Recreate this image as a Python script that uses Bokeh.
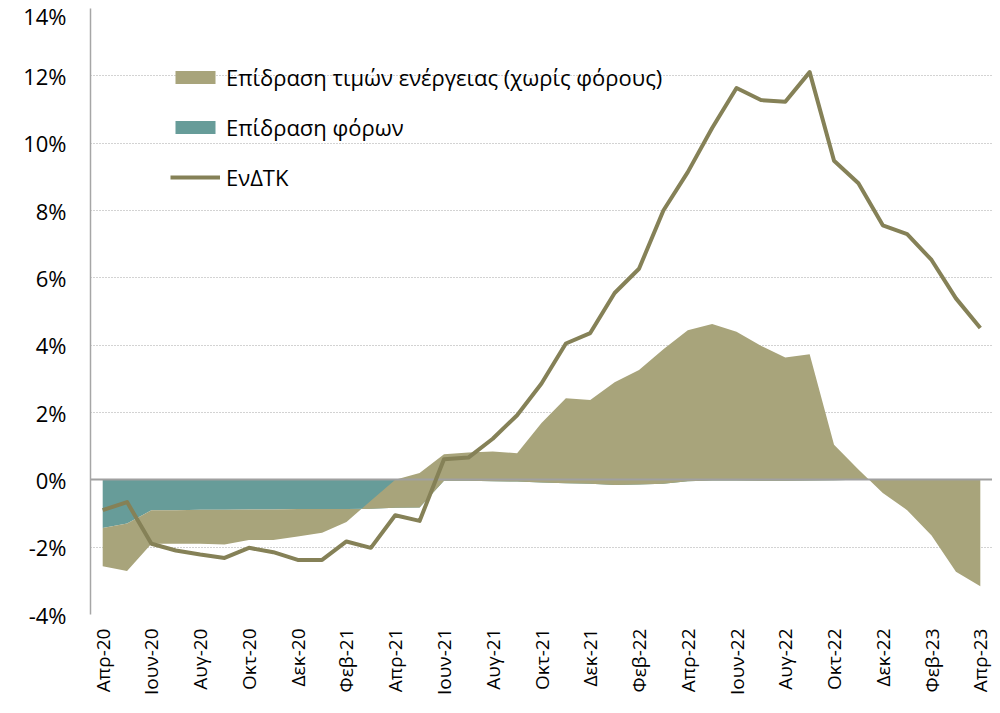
from bokeh.plotting import figure
from bokeh.models import (FixedTicker, PrintfTickFormatter, Legend, LegendItem,
                          Range1d, ColumnDataSource)
from bokeh.embed import file_html
from bokeh.resources import INLINE
import math

months = ["Απρ-20", "Μαϊ-20", "Ιουν-20", "Ιουλ-20", "Αυγ-20", "Σεπ-20", "Οκτ-20", "Νοε-20",
          "Δεκ-20", "Ιαν-21", "Φεβ-21", "Μαρ-21", "Απρ-21", "Μαϊ-21", "Ιουν-21", "Ιουλ-21",
          "Αυγ-21", "Σεπ-21", "Οκτ-21", "Νοε-21", "Δεκ-21", "Ιαν-22", "Φεβ-22", "Μαρ-22",
          "Απρ-22", "Μαϊ-22", "Ιουν-22", "Ιουλ-22", "Αυγ-22", "Σεπ-22", "Οκτ-22", "Νοε-22",
          "Δεκ-22", "Ιαν-23", "Φεβ-23", "Μαρ-23", "Απρ-23"]

# Effect of taxes (percentage points)
taxes = [-1.43, -1.30, -0.90, -0.90, -0.89, -0.89, -0.88, -0.88, -0.87, -0.87, -0.87, -0.86,
         -0.83, -0.82, -0.03, -0.03, -0.04, -0.05, -0.08, -0.10, -0.12, -0.15, -0.14, -0.12,
         -0.04, -0.02, -0.02, -0.03, -0.03, -0.02, -0.01, 0.0, 0.0, 0.0, 0.0, 0.0, 0.0]

# Effect of energy prices excluding taxes (percentage points)
energy = [-1.14, -1.41, -1.00, -1.00, -1.01, -1.03, -0.91, -0.91, -0.81, -0.70, -0.38, 0.24,
          0.83, 1.02, 0.79, 0.84, 0.88, 0.84, 1.77, 2.52, 2.49, 3.05, 3.40, 4.00,
          4.48, 4.65, 4.42, 4.01, 3.66, 3.75, 1.05, 0.31, -0.39, -0.90, -1.65, -2.73, -3.16]

# HICP annual change (%)
hicp = [-0.9, -0.66, -1.9, -2.1, -2.22, -2.32, -2.02, -2.15, -2.38, -2.38, -1.83, -2.02,
        -1.05, -1.22, 0.61, 0.66, 1.22, 1.92, 2.86, 4.05, 4.36, 5.55, 6.27, 8.0,
        9.14, 10.45, 11.64, 11.28, 11.23, 12.11, 9.48, 8.81, 7.56, 7.3, 6.53, 5.39, 4.51]

y_ticks = [-4, -2, 0, 2, 4, 6, 8, 10, 12, 14]

labels = {
    "energy": "Επίδραση τιμών ενέργειας (χωρίς φόρους)",
    "taxes": "Επίδραση φόρων",
    "hicp": "ΕνΔΤΚ",
}

KHAKI = "#A8A47B"
TEAL = "#679C99"
LINE = "#858157"
FONT = "Open Sans"

x = list(range(len(months)))
cum = [t + e for t, e in zip(taxes, energy)]
src = ColumnDataSource(dict(x=x, taxes=taxes, cum=cum, hicp=hicp,
                            zero=[0.0] * len(x)))

p = figure(width=992, height=697, output_backend="svg", toolbar_location=None,
           x_range=Range1d(-0.5, len(months) - 0.5), y_range=Range1d(-4, 14),
           min_border_left=90, min_border_right=0, min_border_top=8,
           min_border_bottom=70)
p.outline_line_color = None
p.background_fill_color = "white"
p.border_fill_color = "white"

r_tax = p.varea(x="x", y1="zero", y2="taxes", source=src, fill_color=TEAL)
r_en = p.varea(x="x", y1="taxes", y2="cum", source=src, fill_color=KHAKI)
p.hspan(y=[0], line_color="#A0A0A0", line_width=2)
r_line = p.line(x="x", y="hicp", source=src, line_color=LINE, line_width=4,
                line_join="round")

# axes
for ax in (p.xaxis, p.yaxis):
    ax.major_tick_out = 0
    ax.major_tick_in = 0
    ax.minor_tick_out = 0
    ax.minor_tick_in = 0
    ax.major_tick_line_color = None
    ax.minor_tick_line_color = None
    ax.major_label_text_font = FONT
    ax.major_label_text_color = "black"

p.yaxis.ticker = FixedTicker(ticks=y_ticks)
p.yaxis.formatter = PrintfTickFormatter(format="%d%%")
p.yaxis.axis_line_color = "#A6A6A6"
p.yaxis.axis_line_width = 1.5
p.yaxis.major_label_standoff = 24
p.yaxis.major_label_text_font_size = "22px"

p.xaxis.ticker = FixedTicker(ticks=x[::2])
p.xaxis.major_label_overrides = {i: months[i] for i in x[::2]}
p.xaxis.major_label_orientation = math.pi / 2
p.xaxis.axis_line_color = None
p.xaxis.major_label_standoff = 14
p.xaxis.major_label_text_font_size = "19px"

p.xgrid.grid_line_color = None
p.ygrid.ticker = FixedTicker(ticks=y_ticks)
p.ygrid.grid_line_color = "#A6A6A6"
p.ygrid.grid_line_dash = "1 2"
p.ygrid.grid_line_width = 1.2

legend = Legend(items=[
    LegendItem(label=labels["energy"], renderers=[r_en]),
    LegendItem(label=labels["taxes"], renderers=[r_tax]),
    LegendItem(label=labels["hicp"], renderers=[r_line]),
], location=(80, 422), orientation="vertical")
legend.padding = 0
legend.margin = 0
legend.spacing = 20
legend.glyph_width = 50
legend.glyph_height = 16
legend.label_height = 30
legend.label_standoff = 6
legend.label_text_font = FONT
legend.label_text_font_size = "22px"
legend.label_text_color = "black"
legend.border_line_color = None
legend.background_fill_alpha = 0
p.add_layout(legend)

open("out.html", "w").write(file_html(p, INLINE))
